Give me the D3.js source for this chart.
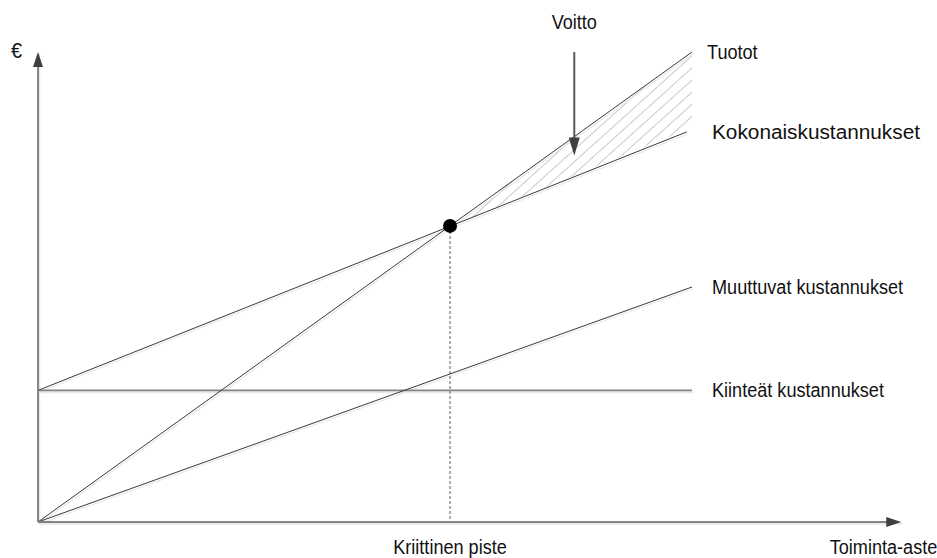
<!DOCTYPE html>
<html>
<head>
<meta charset="utf-8">
<script src="https://cdn.jsdelivr.net/npm/d3@7"></script>
<style>
  html, body { margin: 0; padding: 0; background: #fff; }
  svg { display: block; }
  text { font-family: "Liberation Sans", Arial, sans-serif; fill: #111; }
</style>
</head>
<body>
<svg id="chart" width="937" height="558"></svg>
<script>
// Break-even chart: activity level (x) against euros (y), both in relative units 0..100.

// Line series, each as [activity, euros] end points
const revenue      = [[0, 0],  [100, 100]];
const totalCost    = [[0, 28], [99.2, 83]];
const variableCost = [[0, 0],  [100, 50]];
const fixedCost    = [[0, 28], [100, 28]];

// Break-even point and the profit region beyond it
const breakEven  = [63, 63];
const profitArea = [[63, 63], [100, 100], [100, 84]];

// Axis extents (arrow tips) and the profit pointer
const xAxisMax = 132;
const yAxisMax = 100;
const profitArrow = [[82, 100], [82, 78]];

// Texts
const seriesLabels = [
  { text: "Tuotot", line: revenue },
  { text: "Kokonaiskustannukset", line: totalCost },
  { text: "Muuttuvat kustannukset", line: variableCost },
  { text: "Kiinteät kustannukset", line: fixedCost }
];
const yAxisTitle = "€";
const xAxisTitle = "Toiminta-aste";
const breakEvenLabel = "Kriittinen piste";
const profitLabel = "Voitto";

// Label layout: horizontal gap after the line end and horizontal glyph scale
const labelLayout = {
  "Tuotot": { dx: 15, sx: 0.905 },
  "Kokonaiskustannukset": { dx: 20, sx: 1.04 },
  "Muuttuvat kustannukset": { dx: 20, sx: 0.905 },
  "Kiinteät kustannukset": { dx: 20, sx: 0.905 }
};

const svg = d3.select("#chart");
const x = d3.scaleLinear().domain([0, 100]).range([38, 692]);
const y = d3.scaleLinear().domain([0, 100]).range([522, 52]);
const line = d3.line().x(d => x(d[0])).y(d => y(d[1]));

const defs = svg.append("defs");
defs.append("pattern")
  .attr("id", "hatch")
  .attr("patternUnits", "userSpaceOnUse")
  .attr("width", 9).attr("height", 9)
  .attr("patternTransform", "rotate(48)")
  .append("line")
  .attr("x1", 0).attr("y1", 0).attr("x2", 0).attr("y2", 9)
  .attr("stroke", "#bdbdbd").attr("stroke-width", 1.6);

// Scaled text helper (slightly condensed sans face)
function label(g, px, py, str, anchor, size, sx) {
  g.append("g")
    .attr("transform", `translate(${px},${py}) scale(${sx || 0.905},1)`)
    .append("text")
    .attr("text-anchor", anchor || "start")
    .attr("font-size", size || 20)
    .text(str);
}

// Profit hatching
svg.append("path")
  .attr("d", line(profitArea) + "Z")
  .attr("fill", "url(#hatch)");

// Faint drop shadows under the drawn lines
const shadow = svg.append("g").attr("transform", "translate(1.2,1.8)")
  .attr("stroke", "#e8e8e8").attr("fill", "none");
[revenue, totalCost, variableCost].forEach(s =>
  shadow.append("path").attr("d", line(s)).attr("stroke-width", 1.2));
shadow.append("path").attr("d", line(fixedCost)).attr("stroke-width", 2);
shadow.append("path").attr("d", line([[0, 0], [0, yAxisMax]])).attr("stroke-width", 2);
shadow.append("path").attr("d", line([[0, 0], [xAxisMax, 0]])).attr("stroke-width", 2);

// Break-even drop line
svg.append("line")
  .attr("x1", x(breakEven[0])).attr("x2", x(breakEven[0]))
  .attr("y1", y(breakEven[1])).attr("y2", y(0))
  .attr("stroke", "#8a8a8a").attr("stroke-width", 1.4)
  .attr("stroke-dasharray", "3,2");

// Fixed cost
svg.append("path").attr("d", line(fixedCost))
  .attr("stroke", "#858585").attr("stroke-width", 1.8).attr("fill", "none");

// Revenue, total cost and variable cost
[revenue, totalCost, variableCost].forEach(s =>
  svg.append("path").attr("d", line(s))
    .attr("stroke", "#3a3a3a").attr("stroke-width", 1).attr("fill", "none"));

// Axes with arrow heads
const axisColor = "#858585", headColor = "#3f3f3f";
svg.append("line")
  .attr("x1", x(0)).attr("y1", y(0)).attr("x2", x(0)).attr("y2", y(yAxisMax) + 10)
  .attr("stroke", axisColor).attr("stroke-width", 2);
svg.append("path")
  .attr("d", `M${x(0)},${y(yAxisMax)} L${x(0) - 5},${y(yAxisMax) + 15} L${x(0) + 5},${y(yAxisMax) + 15}Z`)
  .attr("fill", headColor);
svg.append("line")
  .attr("x1", x(0)).attr("y1", y(0)).attr("x2", x(xAxisMax) - 10).attr("y2", y(0))
  .attr("stroke", axisColor).attr("stroke-width", 2);
svg.append("path")
  .attr("d", `M${x(xAxisMax)},${y(0)} L${x(xAxisMax) - 15},${y(0) - 5} L${x(xAxisMax) - 15},${y(0) + 5}Z`)
  .attr("fill", headColor);

// Break-even point
svg.append("circle")
  .attr("cx", x(breakEven[0])).attr("cy", y(breakEven[1])).attr("r", 7)
  .attr("fill", "#000");

// Profit pointer
const [pa, pb] = profitArrow;
svg.append("line")
  .attr("x1", x(pa[0])).attr("y1", y(pa[1])).attr("x2", x(pb[0])).attr("y2", y(pb[1]) - 12)
  .attr("stroke", "#5a5a5a").attr("stroke-width", 2);
svg.append("path")
  .attr("d", `M${x(pb[0])},${y(pb[1])} L${x(pb[0]) - 5.5},${y(pb[1]) - 18} L${x(pb[0]) + 5.5},${y(pb[1]) - 18}Z`)
  .attr("fill", headColor);

// Texts
seriesLabels.forEach(l => {
  const end = l.line[l.line.length - 1];
  const lay = labelLayout[l.text];
  label(svg, x(100) + lay.dx, y(end[1]) + 7, l.text, "start", 20, lay.sx);
});
label(svg, x(pa[0]), y(pa[1]) - 23, profitLabel, "middle");
label(svg, x(breakEven[0]), y(0) + 32, breakEvenLabel, "middle");
label(svg, x(xAxisMax) + 36, y(0) + 32, xAxisTitle, "end");
label(svg, 11, y(yAxisMax) + 6, yAxisTitle, "start", 22);
</script>
</body>
</html>
